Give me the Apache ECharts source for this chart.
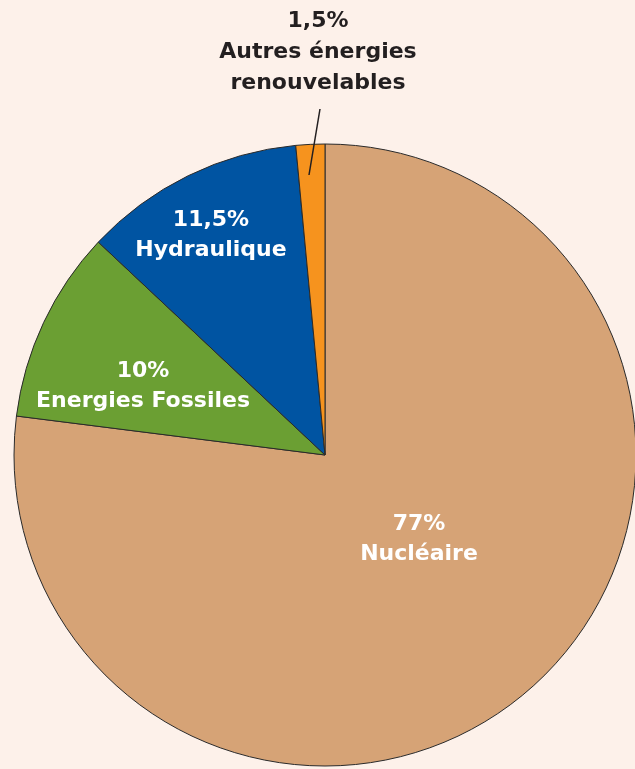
<!DOCTYPE html>
<html><head><meta charset="utf-8">
<script src="https://cdn.jsdelivr.net/npm/echarts@6/dist/echarts.min.js"></script>
<style>html,body{margin:0;padding:0;background:#fdf1ea;}#c{width:635px;height:769px;}</style>
</head><body><div id="c"></div>
<script>
var categories = ['Nucléaire', 'Energies Fossiles', 'Hydraulique', 'Autres énergies\nrenouvelables'];
var values = [77, 10, 11.5, 1.5];
var valueLabels = ['77%', '10%', '11,5%', '1,5%'];
var colors = ['#d6a376', '#6b9f33', '#0054a2', '#f6931e'];

var chart = echarts.init(document.getElementById('c'));
var labelSpots = [[419, 539], [143, 386], [211, 235], [318, 52]];
var center = [325, 455];
var radius = 311;
var labelFont = {
  fontFamily: 'DejaVu Sans',
  fontWeight: 'bold',
  fontSize: 22,
  lineHeight: 30,
  align: 'center',
  formatter: function (p) { return valueLabels[p.dataIndex] + '\n' + p.name; }
};

// main pie: coloured slices + inside labels
var mainData = categories.map(function (c, i) {
  var d = { name: c, value: values[i], itemStyle: { color: colors[i] } };
  if (i === 3) d.label = { show: false };
  return d;
});
// overlay pie (transparent) holding the outside label and its leader line above the slices
var overlayData = categories.map(function (c, i) {
  var d = { name: c, value: values[i] };
  if (i !== 3) {
    d.label = { show: false };
    d.labelLine = { show: false };
  }
  return d;
});

chart.setOption({
  backgroundColor: '#fdf1ea',
  animation: false,
  series: [{
    type: 'pie',
    z: 2,
    center: center,
    radius: [0, radius],
    startAngle: 90,
    clockwise: true,
    silent: true,
    data: mainData,
    itemStyle: { borderColor: '#2a2a2a', borderWidth: 1 },
    label: Object.assign({ position: 'inside', color: '#ffffff' }, labelFont),
    labelLine: { show: false },
    labelLayout: function (p) {
      var s = labelSpots[p.dataIndex];
      return { x: s[0], y: s[1], align: 'center', verticalAlign: 'middle' };
    }
  }, {
    type: 'pie',
    z: 5,
    center: center,
    radius: [0, radius],
    startAngle: 90,
    clockwise: true,
    silent: true,
    data: overlayData,
    itemStyle: { color: 'rgba(0,0,0,0)', borderWidth: 0 },
    label: Object.assign({ position: 'outside', color: '#231f20' }, labelFont, { lineHeight: 31 }),
    labelLine: { show: true, lineStyle: { color: '#231f20', width: 1.5 } },
    labelLayout: function (p) {
      var s = labelSpots[p.dataIndex];
      return {
        x: s[0], y: s[1], align: 'center', verticalAlign: 'middle',
        labelLinePoints: [[309, 175], [320, 109], [320, 109]]
      };
    }
  }]
});
</script></body></html>
